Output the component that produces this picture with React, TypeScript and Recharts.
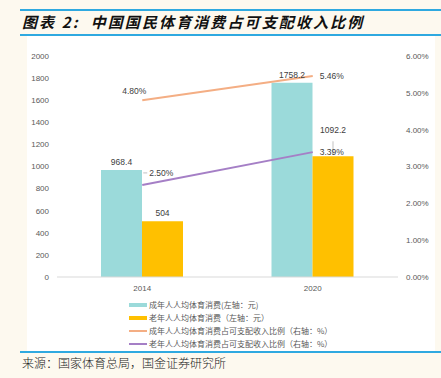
import * as React from "react";
import {
  ComposedChart,
  Bar,
  Line,
  XAxis,
  YAxis,
  LabelList,
} from "recharts";

const years = ["2014", "2020"];
const adultSpend = [968.4, 1758.2];
const seniorSpend = [504, 1092.2];
const adultRatio = [4.8, 5.46];
const seniorRatio = [2.5, 3.39];
const leftTicks = [0, 200, 400, 600, 800, 1000, 1200, 1400, 1600, 1800, 2000];
const rightTicks = [0, 1, 2, 3, 4, 5, 6];

const legendItems = [
  { name: "成年人人均体育消费(左轴：元)", color: "#9bdada", thick: true },
  { name: "老年人人均体育消费（左轴：元）", color: "#ffc000", thick: true },
  { name: "成年人人均体育消费占可支配收入比例（右轴：%）", color: "#f4ae84", thick: false },
  { name: "老年人人均体育消费占可支配收入比例（右轴：%）", color: "#a57fc6", thick: false },
];

const data = years.map((year, i) => ({
  year,
  adult: adultSpend[i],
  senior: seniorSpend[i],
  adultPct: adultRatio[i],
  seniorPct: seniorRatio[i],
}));

const FONT = '"Liberation Sans", Arial, sans-serif';
const CJK = '"Noto Sans CJK SC", "Liberation Sans", sans-serif';
const TXT = "#595959";
const BLUE = "#2fa9e0";

const pct = (v: any) => `${Number(v).toFixed(2)}%`;

// bar value above the bar; the 2020 senior bar label sits higher with a leader line
function barLabel(lift: number[]) {
  return (p: any) => {
    const cx = p.x + p.width / 2;
    const up = lift[p.index] || 0;
    return (
      <g>
        {up > 0 && (
          <line x1={cx} x2={cx} y1={p.y - 2} y2={p.y - up + 3} stroke="#a6a6a6" strokeWidth={0.7} />
        )}
        <text x={cx} y={p.y - 5 - up} textAnchor="middle" fontSize={8.5} fill="#404040" fontFamily={FONT}>
          {p.value}
        </text>
      </g>
    );
  };
}

function adultPctLabel(p: any) {
  if (p.index === 0) {
    return (
      <text x={p.x - 8} y={p.y - 6} textAnchor="middle" fontSize={8.5} fill="#404040" fontFamily={FONT}>
        {pct(p.value)}
      </text>
    );
  }
  return (
    <text x={p.x + 7} y={p.y + 3} textAnchor="start" fontSize={8.5} fill="#404040" fontFamily={FONT}>
      {pct(p.value)}
    </text>
  );
}

function seniorPctLabel(p: any) {
  if (p.index === 0) {
    return (
      <g>
        <line x1={p.x + 1} x2={p.x + 5} y1={p.y - 12} y2={p.y - 12} stroke="#a6a6a6" strokeWidth={0.7} />
        <text x={p.x + 7} y={p.y - 9} textAnchor="start" fontSize={8.5} fill="#404040" fontFamily={FONT}>
          {pct(p.value)}
        </text>
      </g>
    );
  }
  return (
    <text x={p.x + 7} y={p.y + 3} textAnchor="start" fontSize={8.5} fill="#404040" fontFamily={FONT}>
      {pct(p.value)}
    </text>
  );
}

export default function App() {
  return (
    <div
      style={{
        position: "absolute",
        left: 0,
        top: 0,
        width: 441,
        height: 378,
        background: "#fdf9ef",
        overflow: "hidden",
      }}
    >
      <div style={{ position: "absolute", left: 20, top: 9, width: 421, height: 2, background: BLUE }} />
      <div style={{ position: "absolute", left: 20, top: 34, width: 421, height: 2, background: BLUE }} />
      <div style={{ position: "absolute", left: 20, top: 351, width: 421, height: 2, background: BLUE }} />
      <div
        style={{
          position: "absolute",
          left: 22,
          top: 12,
          fontFamily: CJK,
          fontStyle: "italic",
          fontWeight: 700,
          fontSize: 15,
          letterSpacing: 2.1,
          color: "#111",
          whiteSpace: "nowrap",
          lineHeight: "20px",
        }}
      >
        图表 2:&nbsp;&nbsp;中国国民体育消费占可支配收入比例
      </div>
      <div style={{ position: "absolute", left: 27, top: 36, width: 408, height: 315, background: "#fff" }} />

      <div style={{ position: "absolute", left: 0, top: 0 }}>
        <ComposedChart
          width={441}
          height={300}
          data={data}
          margin={{ top: 56, right: 3, bottom: 3, left: 17 }}
          barGap={0}
        >
          <XAxis
            dataKey="year"
            tickLine={false}
            axisLine={{ stroke: "#d9d9d9" }}
            tick={{ fontSize: 8, fill: TXT, fontFamily: FONT }}
            height={20}
          />
          <YAxis
            yAxisId="left"
            domain={[0, 2000]}
            ticks={leftTicks}
            axisLine={false}
            tickLine={false}
            width={40}
            tick={{ fontSize: 8, fill: TXT, fontFamily: FONT }}
          />
          <YAxis
            yAxisId="right"
            orientation="right"
            domain={[0, 6]}
            ticks={rightTicks}
            axisLine={false}
            tickLine={false}
            width={40}
            tickFormatter={pct}
            tick={{ fontSize: 8, fill: TXT, fontFamily: FONT, textAnchor: "start" }}
          />
          <Bar yAxisId="left" dataKey="adult" fill="#9bdada" barSize={41} isAnimationActive={false}>
            <LabelList dataKey="adult" content={barLabel([0, 0])} />
          </Bar>
          <Bar yAxisId="left" dataKey="senior" fill="#ffc000" barSize={41} isAnimationActive={false}>
            <LabelList dataKey="senior" content={barLabel([0, 18])} />
          </Bar>
          <Line
            yAxisId="right"
            dataKey="adultPct"
            stroke="#f4ae84"
            strokeWidth={2}
            dot={false}
            isAnimationActive={false}
          >
            <LabelList dataKey="adultPct" content={adultPctLabel} />
          </Line>
          <Line
            yAxisId="right"
            dataKey="seniorPct"
            stroke="#a57fc6"
            strokeWidth={2}
            dot={false}
            isAnimationActive={false}
          >
            <LabelList dataKey="seniorPct" content={seniorPctLabel} />
          </Line>
        </ComposedChart>
      </div>

      <div style={{ position: "absolute", left: 129, top: 298 }}>
        {legendItems.map((it) => (
          <div
            key={it.name}
            style={{ display: "flex", alignItems: "center", height: 13, whiteSpace: "nowrap" }}
          >
            <span
              style={{
                display: "inline-block",
                width: 18,
                height: it.thick ? 4 : 2,
                background: it.color,
                marginRight: 2,
              }}
            />
            <span style={{ fontFamily: CJK, fontSize: 8, color: TXT }}>{it.name}</span>
          </div>
        ))}
      </div>

      <div
        style={{
          position: "absolute",
          left: 22,
          top: 354,
          fontFamily: CJK,
          fontSize: 12,
          fontWeight: 300,
          color: "#222",
          whiteSpace: "nowrap",
          lineHeight: "17px",
        }}
      >
        来源：国家体育总局，国金证券研究所
      </div>
    </div>
  );
}
